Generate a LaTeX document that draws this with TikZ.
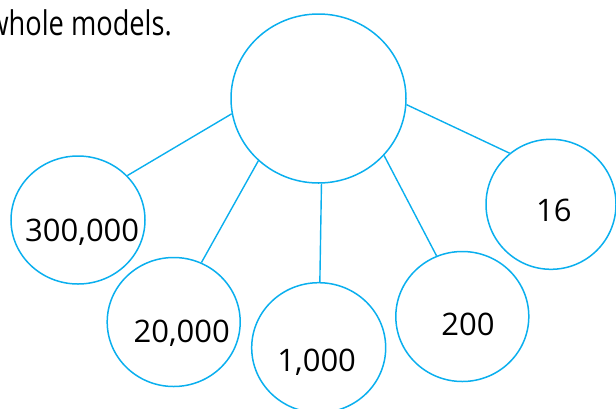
\documentclass[tikz,border=0pt]{standalone}
\usepackage{fontspec}
\setmainfont{Open Sans}
\usetikzlibrary{shapes.geometric}
\definecolor{ringblue}{RGB}{10,175,238}
\begin{document}
\begin{tikzpicture}[x=1pt,y=-1pt,
  ring/.style={ellipse, draw=ringblue, line width=1.5pt, inner sep=0pt},
  whole/.style={ring, minimum width=175pt, minimum height=169pt},
  part/.style={ring, minimum width=133pt, minimum height=129pt},
  link/.style={draw=ringblue, line width=1.4pt},
  num/.style={inner sep=0pt, anchor=base, font=\fontsize{31}{37}\selectfont}]
\useasboundingbox (0,0) rectangle (616,408);

% heading fragment
\node[inner sep=0pt, anchor=base east, font=\fontsize{34}{40}\selectfont]
  (caption) at (172,35) {\scalebox{0.8}[1]{whole models.}};

% the whole and its parts
\node[whole] (top) at (318.5,98.5) {};
\node[part, minimum width=134pt, minimum height=128pt] (pa) at (78,220) {};
\node[part] (pb) at (173.7,322) {};
\node[part, minimum width=134pt, minimum height=130pt] (pc) at (318.7,347.7) {};
\node[part, minimum height=130pt] (pd) at (462.3,316.5) {};
\node[part, minimum width=130pt, minimum height=130pt] (pe) at (551,204.3) {};

% values
\node[num] (va) at (82.2,241.5) {300,000};
\node[num] (vb) at (181.7,342.7) {20,000};
\node[num] (vc) at (316.7,371) {1,000};
\node[num] (vd) at (468,335.7) {200};
\node[num] (ve) at (553.8,221.7) {16};

% connectors
\draw[link] (top.190.2) -- (pa.42.7);
\draw[link] (top.226.7) -- (pb.65.9);
\draw[link] (top.272.2) -- (pc.89.5);
\draw[link] (top.319.9) -- (pd.113.7);
\draw[link] (top.356.8) -- (pe.129.2);
\end{tikzpicture}
\end{document}
